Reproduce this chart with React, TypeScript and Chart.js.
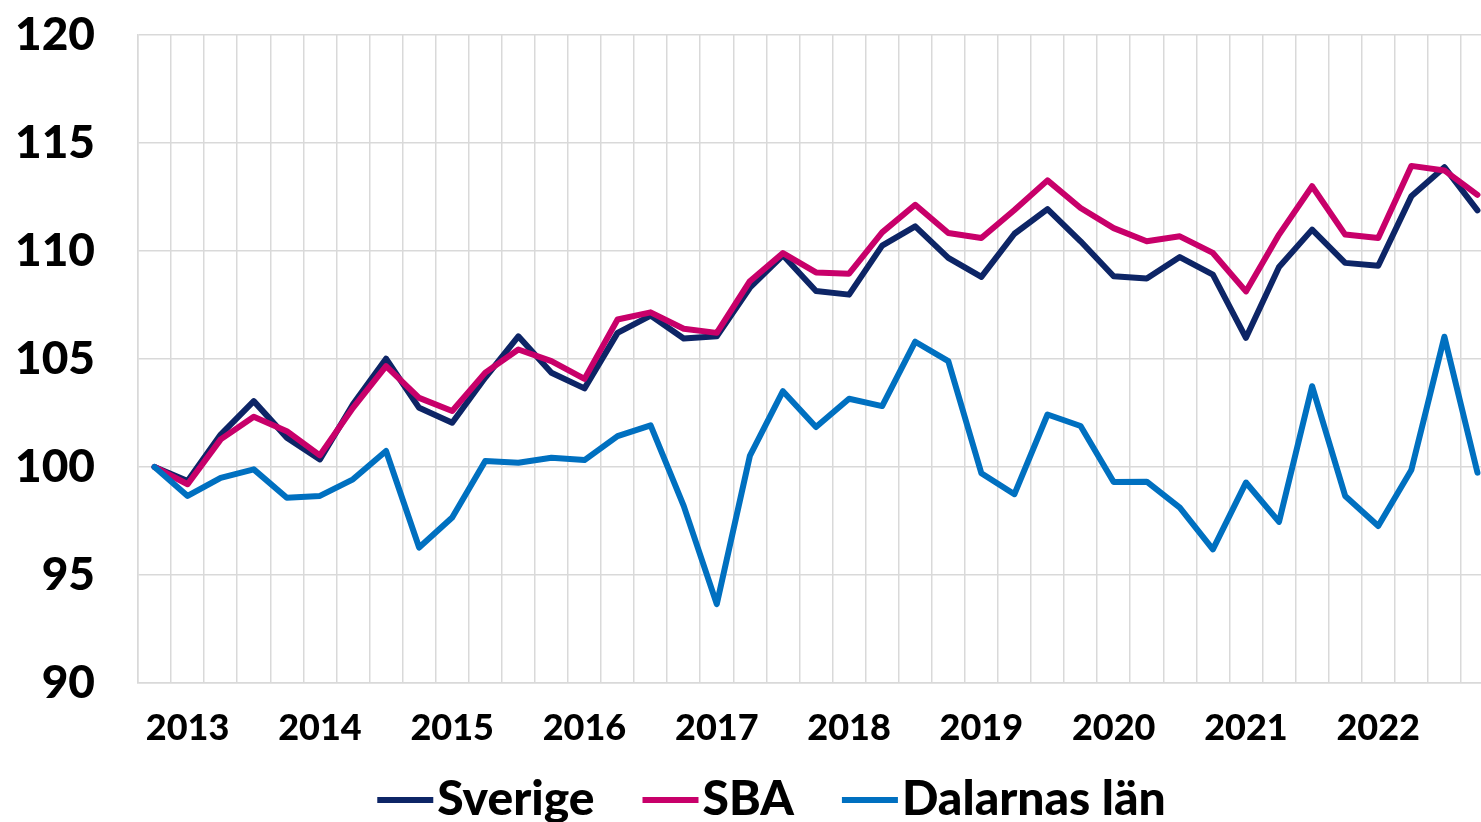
import React, { useEffect, useRef } from 'react';
import { Chart, registerables } from 'chart.js';

Chart.register(...registerables);

const quarters = [
  '2013K1', '2013K2', '2013K3', '2013K4',
  '2014K1', '2014K2', '2014K3', '2014K4',
  '2015K1', '2015K2', '2015K3', '2015K4',
  '2016K1', '2016K2', '2016K3', '2016K4',
  '2017K1', '2017K2', '2017K3', '2017K4',
  '2018K1', '2018K2', '2018K3', '2018K4',
  '2019K1', '2019K2', '2019K3', '2019K4',
  '2020K1', '2020K2', '2020K3', '2020K4',
  '2021K1', '2021K2', '2021K3', '2021K4',
  '2022K1', '2022K2', '2022K3', '2022K4',
  '2023K1',
];

const yearLabels = ['2013', '2014', '2015', '2016', '2017', '2018', '2019', '2020', '2021', '2022'];

const sverige = [
  100.0, 99.35, 101.5, 103.05, 101.36, 100.35, 102.9, 105.01, 102.74, 102.05,
  104.14, 106.05, 104.36, 103.64, 106.21, 107.01, 105.95, 106.05, 108.3, 109.8,
  108.15, 107.98, 110.25, 111.14, 109.68, 108.8, 110.8, 111.94, 110.45, 108.83,
  108.73, 109.72, 108.91, 105.98, 109.26, 110.99, 109.45, 109.32, 112.53, 113.88,
  111.88,
];

const sba = [
  100.0, 99.2, 101.28, 102.33, 101.66, 100.54, 102.74, 104.67, 103.2, 102.59,
  104.37, 105.44, 104.9, 104.08, 106.83, 107.16, 106.4, 106.21, 108.6, 109.9,
  109.01, 108.95, 110.86, 112.14, 110.83, 110.6, 111.9, 113.27, 111.99, 111.06,
  110.45, 110.68, 109.91, 108.13, 110.76, 113.0, 110.76, 110.6, 113.94, 113.73,
  112.6,
];

const dalarna = [
  100.0, 98.66, 99.5, 99.89, 98.58, 98.66, 99.43, 100.74, 96.27, 97.66,
  100.28, 100.2, 100.43, 100.32, 101.43, 101.93, 98.2, 93.65, 100.51, 103.51,
  101.85, 103.16, 102.82, 105.8, 104.9, 99.71, 98.74, 102.43, 101.9, 99.31,
  99.32, 98.12, 96.19, 99.28, 97.46, 103.74, 98.66, 97.27, 99.86, 106.03,
  99.74,
];

const NAVY = '#0d2566';
const MAGENTA = '#c8006a';
const BLUE = '#0070c0';
const GRID = '#d9d9d9';
const FONT = 'Lato, "Open Sans", "DejaVu Sans", sans-serif';

const CANVAS_W = 1563;
const CANVAS_H = 899;

const lineStyle = {
  borderWidth: 6,
  tension: 0,
  borderCapStyle: 'round',
  borderJoinStyle: 'round',
  pointRadius: 0,
  pointHoverRadius: 0,
  fill: false,
};

const LEGEND_PAD = 68;
const LEGEND_FONT = 48;
const LEGEND_CENTER_Y = 800;

const legendShift = {
  id: 'legendShift',
  afterLayout(chart: any) {
    const lg = chart.legend;
    if (!lg) return;
    const target = LEGEND_CENTER_Y - LEGEND_PAD - LEGEND_FONT / 2;
    const dy = lg.top - target;
    lg.top -= dy;
    lg.bottom -= dy;
    lg.left = 0;
    lg.right = CANVAS_W;
    lg.width = CANVAS_W;
  },
};

export default function App() {
  const ref = useRef<HTMLCanvasElement>(null);

  useEffect(() => {
    const canvas = ref.current;
    if (!canvas) return;
    const chart = new Chart(canvas, {
      type: 'line',
      data: {
        labels: quarters,
        datasets: [
          { label: 'Sverige', data: sverige, borderColor: NAVY, backgroundColor: NAVY, order: 3, ...lineStyle },
          { label: 'SBA', data: sba, borderColor: MAGENTA, backgroundColor: MAGENTA, order: 2, ...lineStyle },
          { label: 'Dalarnas län', data: dalarna, borderColor: BLUE, backgroundColor: BLUE, order: 1, ...lineStyle },
        ],
      },
      options: {
        responsive: false,
        animation: false,
        devicePixelRatio: 1,
        layout: { padding: { top: 35, right: 69, left: 0, bottom: 0 } },
        scales: {
          x: {
            type: 'category',
            offset: true,
            grid: { offset: true, color: GRID, lineWidth: 1.5, drawTicks: false },
            border: { color: GRID, width: 1.5 },
            ticks: {
              autoSkip: false,
              maxRotation: 0,
              minRotation: 0,
              padding: 24,
              color: '#000',
              font: { family: FONT, size: 36, weight: 900 },
              callback: (_v: any, i: number) => (i % 4 === 1 ? yearLabels[(i - 1) / 4] : ''),
            },
            afterFit: (s: any) => {
              s.height = 90;
            },
          },
          y: {
            min: 90,
            max: 120,
            grid: { color: GRID, lineWidth: 1.5, drawTicks: false },
            border: { color: GRID, width: 1.5 },
            ticks: {
              stepSize: 5,
              padding: 43,
              color: '#000',
              font: { family: FONT, size: 46, weight: 900 },
            },
            afterFit: (s: any) => {
              s.width = 138;
              s.paddingTop = 0;
              s.paddingBottom = 0;
            },
          },
        },
        plugins: {
          legend: {
            position: 'bottom',
            labels: {
              usePointStyle: true,
              pointStyle: 'line',
              boxWidth: 16,
              boxHeight: 39.6,
              padding: LEGEND_PAD,
              color: '#000',
              font: { family: FONT, size: LEGEND_FONT, weight: 900 },
              sort: (a: any, b: any) => a.datasetIndex - b.datasetIndex,
            },
          },
          tooltip: { enabled: false },
        },
      },
      plugins: [legendShift],
    } as any);
    return () => chart.destroy();
  }, []);

  return (
    <div
      style={{
        position: 'fixed',
        left: 0,
        top: 0,
        width: 1481,
        height: 822,
        overflow: 'hidden',
        background: '#fff',
      }}
    >
      <canvas ref={ref} width={CANVAS_W} height={CANVAS_H} style={{ display: 'block' }} />
    </div>
  );
}
